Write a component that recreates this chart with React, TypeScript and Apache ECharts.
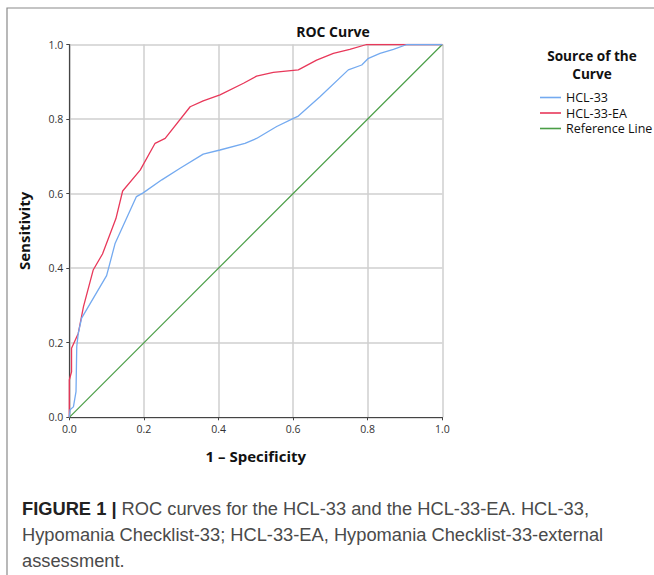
import React, { useEffect, useRef } from "react";
import * as echarts from "echarts";

const hclX = [0, 0.002, 0.011, 0.018, 0.02, 0.024, 0.033, 0.10, 0.123, 0.18, 0.198, 0.248, 0.297, 0.359, 0.404, 0.471, 0.502, 0.556, 0.601, 0.614, 0.672, 0.748, 0.784, 0.802, 0.833, 0.869, 0.905, 1.0];
const hclY = [0, 0.02, 0.028, 0.069, 0.19, 0.225, 0.266, 0.38, 0.467, 0.592, 0.602, 0.637, 0.668, 0.706, 0.717, 0.735, 0.748, 0.78, 0.802, 0.808, 0.86, 0.932, 0.945, 0.963, 0.976, 0.987, 1.0, 1.0];
const eaX = [0, 0, 0.006, 0.006, 0.024, 0.038, 0.064, 0.089, 0.125, 0.143, 0.19, 0.23, 0.257, 0.324, 0.359, 0.404, 0.467, 0.502, 0.547, 0.614, 0.663, 0.708, 0.752, 0.797, 1.0];
const eaY = [0, 0.1, 0.122, 0.185, 0.225, 0.297, 0.395, 0.438, 0.533, 0.607, 0.663, 0.735, 0.748, 0.833, 0.849, 0.865, 0.896, 0.915, 0.925, 0.932, 0.958, 0.976, 0.987, 1.0, 1.0];
const refX = [0, 1];
const refY = [0, 1];
const seriesNames = ["HCL-33", "HCL-33-EA", "Reference Line"];
const legendTitle = ["Source of the", "Curve"];
const captionLines = [
  "{b|FIGURE 1 |} ROC curves for the HCL-33 and the HCL-33-EA. HCL-33,",
  "Hypomania Checklist-33; HCL-33-EA, Hypomania Checklist-33-external",
  "assessment.",
];

const zip = (xs: number[], ys: number[]) => xs.map((x, i) => [x, ys[i]]);
const FONT = "Open Sans";

export default function App() {
  const ref = useRef<HTMLDivElement>(null);
  useEffect(() => {
    const chart = echarts.init(ref.current!, null, { renderer: "svg" });
    const lineSeries = (name: string, data: number[][], color: string, w: number) => ({
      name,
      type: "line",
      data,
      showSymbol: false,
      symbol: "none",
      lineStyle: { color, width: w },
      itemStyle: { color },
      z: 3,
    });
    const axisCommon = {
      type: "value",
      min: 0,
      max: 1,
      interval: 0.2,
      nameLocation: "middle",
      nameTextStyle: { fontFamily: FONT, fontWeight: "bold", fontSize: 15, color: "#111" },
      axisLine: { show: true, lineStyle: { color: "#444", width: 1.2 } },
      axisTick: { show: true, length: 3, lineStyle: { color: "#444" } },
      axisLabel: { formatter: (v: number) => v.toFixed(1), fontSize: 10.5, color: "#333", margin: 6, fontFamily: FONT },
      splitLine: { show: true, lineStyle: { color: "#cfcfcf", width: 1.5 } },
    };
    chart.setOption({
      animation: false,
      backgroundColor: "#fff",
      textStyle: { fontFamily: FONT },
      grid: { left: 69.3, top: 44.5, width: 373, height: 372.8, containLabel: false },
      xAxis: { ...axisCommon, name: "1 – Specificity", nameGap: 31 },
      yAxis: { ...axisCommon, name: "Sensitivity", nameGap: 38 },
      legend: {
        orient: "vertical",
        left: 535,
        top: 86,
        itemWidth: 21,
        itemHeight: 1.6,
        itemGap: 2.5,
        icon: "rect",
        textStyle: { fontFamily: FONT, fontSize: 12.5, color: "#111", lineHeight: 12.5 },
        data: seriesNames,
      },
      series: [
        lineSeries(seriesNames[2], zip(refX, refY), "#4a9e46", 1.2),
        lineSeries(seriesNames[1], zip(eaX, eaY), "#e8385a", 1.3),
        lineSeries(seriesNames[0], zip(hclX, hclY), "#74aaf0", 1.3),
      ],
      graphic: [
        {
          type: "rect",
          shape: { x: 7, y: 8, width: 700, height: 700 },
          style: { fill: "none", stroke: "#8a8a8a", lineWidth: 1.2 },
          silent: true,
        },
        {
          type: "text",
          x: 333,
          y: 31,
          style: { text: "ROC Curve", fontFamily: FONT, fontWeight: "bold", fontSize: 14, fill: "#111", align: "center", verticalAlign: "middle" },
        },
        ...legendTitle.map((t, i) => ({
          type: "text",
          x: 592,
          y: 55.5 + i * 18,
          style: {
            text: t,
            fontFamily: FONT,
            fontWeight: "bold",
            fontSize: 13.6,
            lineHeight: 14,
            fill: "#111",
            align: "center",
            verticalAlign: "middle",
          },
        })),
        ...captionLines.map((t, i) => ({
          type: "text",
          x: 22,
          y: 508 + i * 26,
          style: {
            text: t,
            fontFamily: "Liberation Sans",
            fontSize: 18.3,
            fill: "#4a4a4a",
            align: "left",
            verticalAlign: "middle",
            rich: { b: { fontFamily: "Liberation Sans", fontSize: 18.3, fontWeight: "bold", fill: "#222" } },
          },
        })),
      ],
    });
    return () => chart.dispose();
  }, []);
  return <div ref={ref} style={{ position: "fixed", left: 0, top: 0, width: 654, height: 575 }} />;
}
